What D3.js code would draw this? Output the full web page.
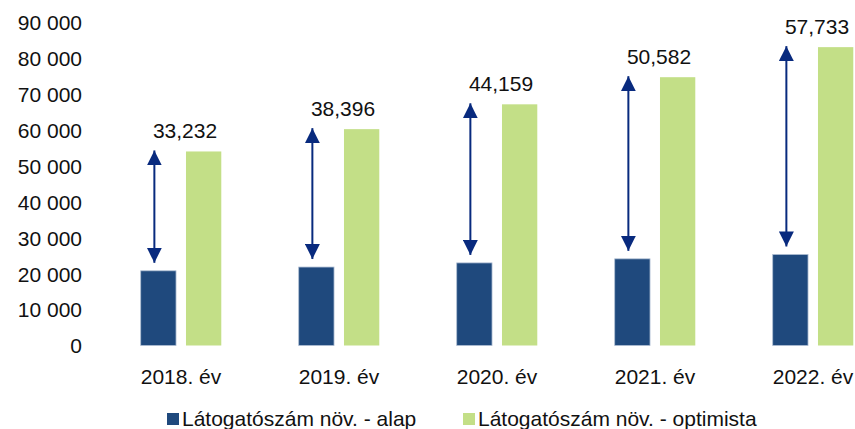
<!DOCTYPE html>
<html>
<head>
<meta charset="utf-8">
<script src="https://cdn.jsdelivr.net/npm/d3@7"></script>
<style>
  html, body { margin: 0; padding: 0; background: #fff; }
  svg { display: block; font-family: "Liberation Sans", Arial, sans-serif; }
</style>
</head>
<body>
<svg id="chart" width="855" height="429"></svg>
<script>
// Visitor growth scenarios by year
const years = ["2018. év", "2019. év", "2020. év", "2021. év", "2022. év"];
const alap = [20800, 21850, 23000, 24130, 25350];
const optimista = [54032, 60246, 67159, 74712, 83083];
const kulonbseg = [33232, 38396, 44159, 50582, 57733];
const yTicks = [0, 10000, 20000, 30000, 40000, 50000, 60000, 70000, 80000, 90000];
const seriesNames = ["Látogatószám növ. - alap", "Látogatószám növ. - optimista"];
const seriesColors = ["#1f497d", "#c3df87"];
const arrowColor = "#082a7e";

const svg = d3.select("#chart");
const fontSize = 21;

const x = d3.scaleBand().domain(years).range([102, 892]).paddingInner(0.49).paddingOuter(0.245);
const xs = d3.scaleBand().domain([0, 1]).range([0, x.bandwidth()]).paddingInner(0.22);
const y = d3.scaleLinear().domain([0, 90000]).range([345.5, 22.3]);

const hu = d3.formatLocale({ decimal: ",", thousands: " ", grouping: [3], currency: ["", ""] });
const fmtAxis = hu.format(",d");
const fmtLabel = d3.format(",");

// Y axis: labels only, no line or ticks
const yAxis = d3.axisLeft(y).tickValues(yTicks).tickFormat(fmtAxis).tickSize(0).tickPadding(0);
const gy = svg.append("g").attr("transform", "translate(82,0)").call(yAxis);
gy.select(".domain").remove();
gy.selectAll("text")
  .attr("font-size", fontSize)
  .attr("font-family", "Liberation Sans, Arial, sans-serif")
  .attr("fill", "#111")
  .attr("dy", "0.35em");

// X axis: category labels
const xAxis = d3.axisBottom(x).tickSize(0).tickPadding(0);
const gx = svg.append("g").attr("transform", "translate(0,384)").call(xAxis);
gx.select(".domain").remove();
gx.selectAll("text")
  .attr("font-size", fontSize)
  .attr("font-family", "Liberation Sans, Arial, sans-serif")
  .attr("fill", "#111")
  .attr("dy", 0)
  .attr("y", 0);

// Bars
const groups = svg.append("g").selectAll("g")
  .data(years)
  .join("g")
  .attr("transform", d => `translate(${x(d)},0)`);

groups.append("rect")
  .attr("x", xs(0))
  .attr("width", xs.bandwidth())
  .attr("y", (d, i) => y(alap[i]))
  .attr("height", (d, i) => y(0) - y(alap[i]))
  .attr("fill", seriesColors[0])
  .attr("stroke", "#aebdd3")
  .attr("stroke-width", 0.8);

groups.append("rect")
  .attr("x", xs(1))
  .attr("width", xs.bandwidth())
  .attr("y", (d, i) => y(optimista[i]))
  .attr("height", (d, i) => y(0) - y(optimista[i]))
  .attr("fill", seriesColors[1]);

// Double-headed arrows showing the gap between scenarios
const defs = svg.append("defs");
defs.append("marker")
  .attr("id", "head")
  .attr("viewBox", "0 0 16 15")
  .attr("refX", 15)
  .attr("refY", 7.5)
  .attr("markerWidth", 16)
  .attr("markerHeight", 15)
  .attr("markerUnits", "userSpaceOnUse")
  .attr("orient", "auto-start-reverse")
  .append("path")
  .attr("d", "M0,0 L15,7.5 L0,15 Z")
  .attr("fill", arrowColor);

groups.append("line")
  .attr("x1", xs(0) + xs.bandwidth() / 2 - 4)
  .attr("x2", xs(0) + xs.bandwidth() / 2 - 4)
  .attr("y1", (d, i) => y(alap[i]) - 8)
  .attr("y2", (d, i) => y(optimista[i]) - 1)
  .attr("stroke", arrowColor)
  .attr("stroke-width", 2)
  .attr("marker-start", "url(#head)")
  .attr("marker-end", "url(#head)");

// Difference labels
groups.append("text")
  .attr("x", x.bandwidth() / 2 + 4)
  .attr("y", (d, i) => y(optimista[i]) - 13)
  .attr("text-anchor", "middle")
  .attr("font-size", fontSize)
  .attr("fill", "#111")
  .text((d, i) => fmtLabel(kulonbseg[i]));

// Legend
const legendX = [167, 463];
const legend = svg.append("g").selectAll("g")
  .data(seriesNames)
  .join("g")
  .attr("transform", (d, i) => `translate(${legendX[i]},0)`);

legend.append("rect")
  .attr("x", 0).attr("y", 413)
  .attr("width", 12).attr("height", 12)
  .attr("fill", (d, i) => seriesColors[i]);

legend.append("text")
  .attr("x", 15).attr("y", 426)
  .attr("font-size", fontSize)
  .attr("fill", "#111")
  .text(d => d);
</script>
</body>
</html>
